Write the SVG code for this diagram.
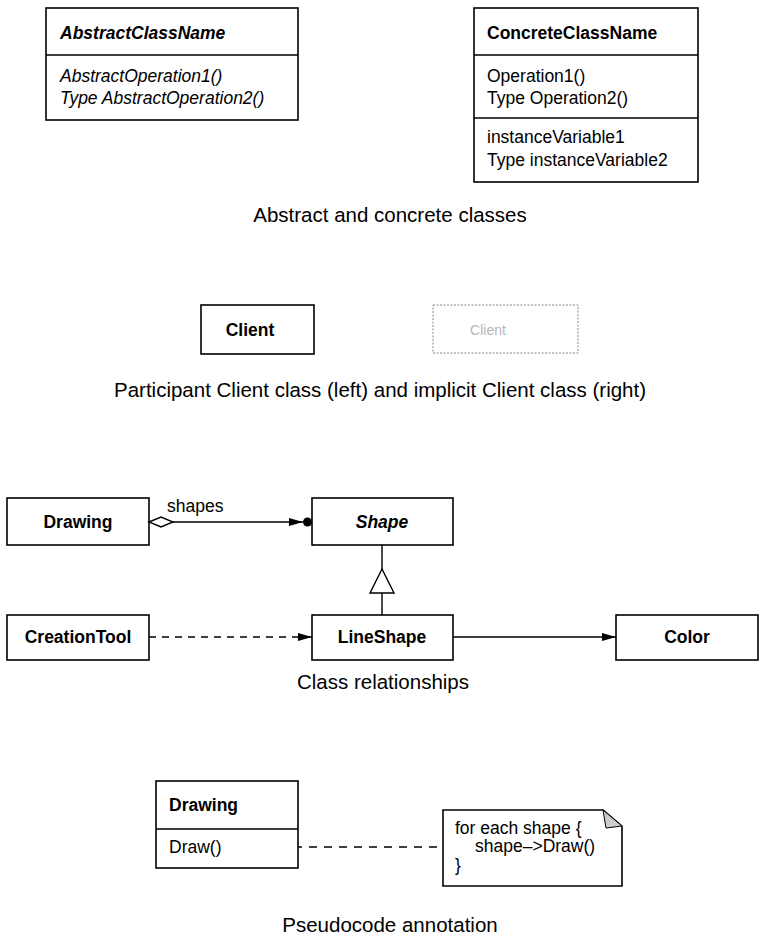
<svg xmlns="http://www.w3.org/2000/svg" width="767" height="945" viewBox="0 0 767 945">
<defs>
<style>
.box{fill:#fff;stroke:#000;stroke-width:1.6}
.ln{fill:none;stroke:#000;stroke-width:1.4}
.dash{fill:none;stroke:#000;stroke-width:1.4;stroke-dasharray:7 6}
.t{font-family:"Liberation Sans",Arial,Helvetica,sans-serif;font-size:17.5px;fill:#000}
.b{font-weight:bold}
.i{font-style:italic}
.cap{font-family:"Liberation Sans",Arial,Helvetica,sans-serif;font-size:20.5px;fill:#000;text-anchor:middle}
.mid{text-anchor:middle}
</style>
<marker id="filled" viewBox="0 0 14 10" refX="14" refY="5" markerWidth="14" markerHeight="10" markerUnits="userSpaceOnUse" orient="auto">
<path d="M0,1 L14,5 L0,9 Z" fill="#000"/>
</marker>
</defs>
<rect width="767" height="945" fill="#fff"/>

<g id="abstract-class">
<rect class="box" x="46" y="8" width="252" height="112"/>
<line class="ln" x1="46" y1="55" x2="298" y2="55"/>
<text class="t b i" x="60" y="39">AbstractClassName</text>
<text class="t i" x="60" y="82">AbstractOperation1()</text>
<text class="t i" x="60" y="104">Type AbstractOperation2()</text>
</g>

<g id="concrete-class">
<rect class="box" x="474" y="8" width="224" height="174"/>
<line class="ln" x1="474" y1="55" x2="698" y2="55"/>
<line class="ln" x1="474" y1="118" x2="698" y2="118"/>
<text class="t b" x="487" y="39">ConcreteClassName</text>
<text class="t" x="487" y="82">Operation1()</text>
<text class="t" x="487" y="104">Type Operation2()</text>
<text class="t" x="487" y="143">instanceVariable1</text>
<text class="t" x="487" y="166">Type instanceVariable2</text>
</g>
<text class="cap" x="390" y="222">Abstract and concrete classes</text>

<g id="client">
<rect class="box" x="201" y="305" width="113" height="49"/>
<text class="t b mid" x="250" y="336">Client</text>
</g>
<g id="implicit-client">
<rect x="433" y="305" width="145" height="48" fill="#fff" stroke="#888" stroke-width="1" stroke-dasharray="2 1.5"/>
<text class="t mid" x="488" y="335" style="fill:#b5b5b5;font-size:14px">Client</text>
</g>
<text class="cap" x="380" y="397">Participant Client class (left) and implicit Client class (right)</text>

<g id="drawing">
<rect class="box" x="7" y="498" width="142" height="47"/>
<text class="t b mid" x="78" y="528">Drawing</text>
</g>
<g id="shape">
<rect class="box" x="312" y="498" width="141" height="47"/>
<text class="t b i mid" x="382" y="528">Shape</text>
</g>
<g id="creationtool">
<rect class="box" x="7" y="615" width="142" height="45"/>
<text class="t b mid" x="78" y="643">CreationTool</text>
</g>
<g id="lineshape">
<rect class="box" x="312" y="615" width="141" height="45"/>
<text class="t b mid" x="382" y="643">LineShape</text>
</g>
<g id="color">
<rect class="box" x="616" y="615" width="142" height="45"/>
<text class="t b mid" x="687" y="643">Color</text>
</g>

<g id="connectors">
<path class="ln" d="M173,522 H303" marker-end="url(#filled)"/>
<path d="M149,522 L161,517 L173,522 L161,527 Z" fill="#fff" stroke="#000" stroke-width="1.4"/>
<circle cx="307.5" cy="522" r="4.5" fill="#000"/>
<text class="t" x="167" y="512">shapes</text>
<line class="ln" x1="382" y1="545" x2="382" y2="569"/>
<path d="M382,569 L370,593 L394,593 Z" fill="#fff" stroke="#000" stroke-width="1.4"/>
<line class="ln" x1="382" y1="593" x2="382" y2="615"/>
<path class="dash" d="M149,637 H312" marker-end="url(#filled)"/>
<path class="ln" d="M453,637 H616" marker-end="url(#filled)"/>
<circle cx="245" cy="847" r="3.5" fill="#fff" stroke="#000" stroke-width="1.3"/>
<path class="ln" d="M249,847 H443" style="stroke-dasharray:8 7"/>
</g>
<text class="cap" x="383" y="689">Class relationships</text>

<g id="drawing2">
<rect class="box" x="156" y="781" width="142" height="87"/>
<line class="ln" x1="156" y1="829" x2="298" y2="829"/>
<text class="t b" x="169" y="811">Drawing</text>
<text class="t" x="169" y="853">Draw()</text>
</g>
<g id="note">
<path d="M443,810 H603 L622,826 V886 H443 Z" fill="#fff" stroke="#000" stroke-width="1.6"/>
<path d="M603,810 L622,826 L606,828 Z" fill="#ccc" stroke="#000" stroke-width="1"/>
<text class="t" x="455" y="834">for each shape {</text>
<text class="t" x="475" y="852">shape–&gt;Draw()</text>
<text class="t" x="455" y="871">}</text>
</g>
<text class="cap" x="390" y="932">Pseudocode annotation</text>
</svg>
